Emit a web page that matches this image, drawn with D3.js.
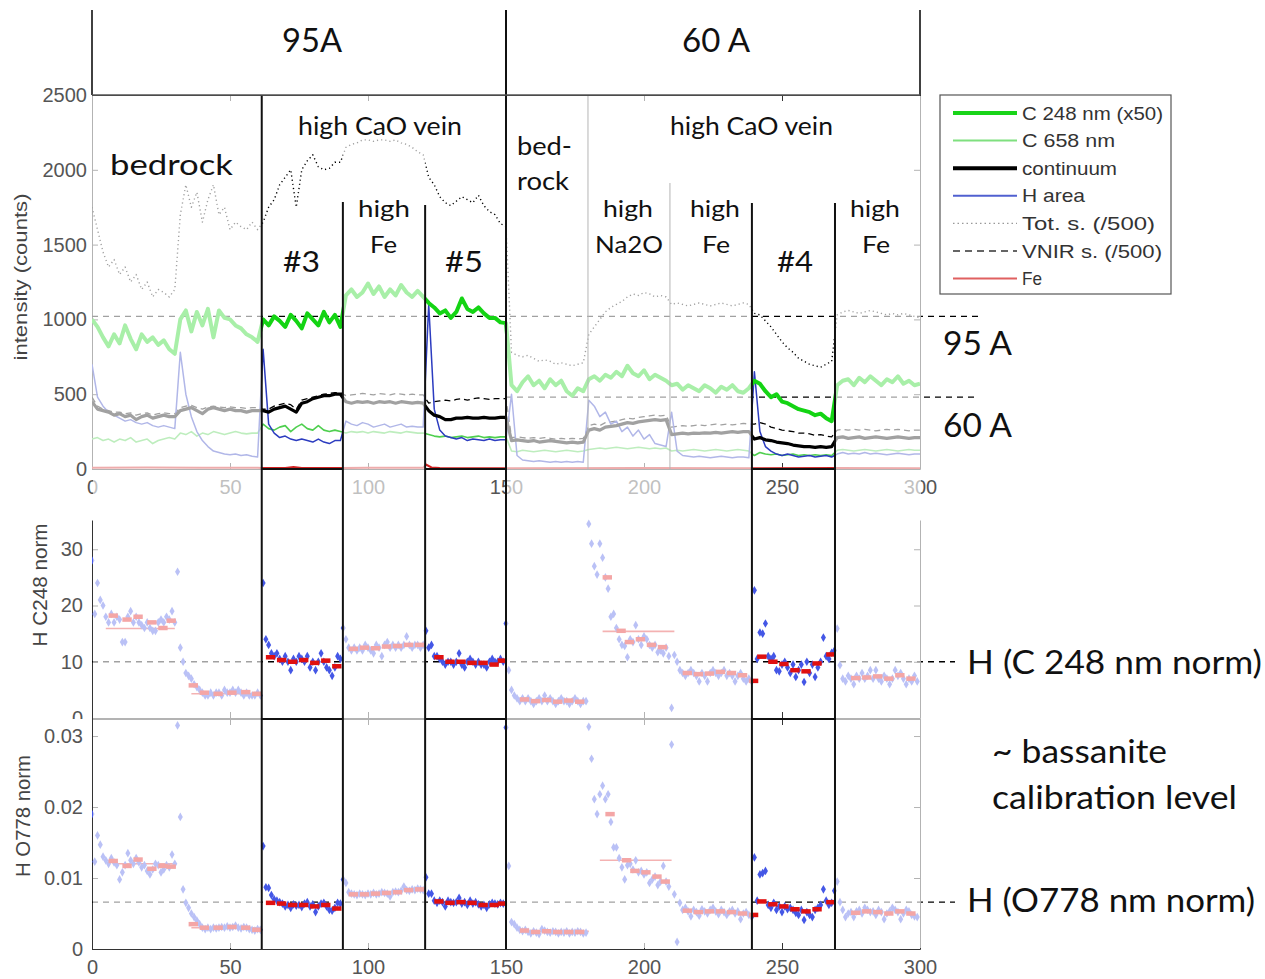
<!DOCTYPE html>
<html><head><meta charset="utf-8">
<script src="https://cdn.jsdelivr.net/npm/d3@7"></script>
<style>body{margin:0;background:#fff}svg{display:block}</style>
</head><body><svg id="c" width="1265" height="979"></svg>
<script>
// ---------------- DATA ----------------
// top panel traces, one value every 2 shots (x = 0,2,...,300)
const c248 = [
 1000,950,880,820,900,840,960,870,800,900,850,880,830,860,800,
 770,1000,1060,920,1050,960,1070,880,1060,1010,1000,960,940,900,880,
 850,1000,960,1020,990,950,1030,990,940,1040,1000,960,1050,980,1030,
 950,1160,1200,1150,1180,1240,1170,1220,1150,1200,1160,1230,1180,1150,1190,
 1150,1110,1080,1040,1060,1010,1050,1140,1070,1050,1080,1040,1010,1010,980,
 975,560,520,580,620,560,590,540,600,560,590,520,490,540,520,
 600,620,590,630,610,650,620,690,640,620,660,600,630,610,590,
 560,570,530,560,540,520,560,540,510,550,530,560,520,510,540,
 590,570,520,480,500,450,440,420,400,390,380,360,370,340,320,
 560,590,600,560,610,580,620,590,560,600,580,620,570,590,560,
 570];
const c658 = [
 200,210,190,200,180,200,190,210,180,190,200,170,190,200,210,
 200,240,230,250,220,240,230,250,240,230,240,250,240,235,240,
 240,300,270,260,280,290,250,280,300,270,260,290,260,250,260,
 250,240,250,245,250,240,250,245,240,250,245,240,250,245,240,
 240,230,220,215,220,210,215,220,210,215,220,210,215,210,215,
 215,120,115,125,120,115,120,125,120,115,120,125,120,115,120,
 130,135,140,135,140,145,140,135,140,145,140,135,140,135,140,
 120,125,120,125,130,125,120,125,130,125,120,125,130,125,120,
 90,110,100,95,100,90,95,100,90,95,90,95,90,95,90,
 125,130,125,120,125,130,125,120,125,130,125,120,125,130,125,
 125];
const continuum = [
 450,400,390,380,360,370,350,360,330,350,360,340,350,360,350,
 350,390,400,410,390,370,400,410,400,390,400,390,390,380,390,
 390,390,380,400,410,420,400,380,440,450,470,480,490,490,500,
 500,450,440,450,445,450,440,450,445,450,440,450,445,440,445,
 440,390,360,350,330,330,340,340,345,340,340,345,340,340,345,
 345,190,195,190,185,190,180,185,190,185,180,175,180,175,180,
 260,270,260,280,285,290,300,310,305,315,320,325,330,325,330,
 230,235,240,235,240,238,242,240,245,240,245,250,245,250,250,
 200,210,195,190,180,175,170,160,155,150,150,145,150,145,150,
 210,215,205,210,215,205,210,215,210,205,210,215,210,205,210,
 210];
const hArea = [
 700,480,420,380,360,340,320,330,310,300,310,290,280,290,280,
 270,780,500,350,250,190,150,120,110,100,95,100,90,95,85,
 80,800,300,240,210,220,200,190,200,190,180,200,180,170,190,
 190,320,300,290,310,300,280,290,300,280,290,300,280,285,280,
 280,1100,400,260,220,210,200,210,190,200,195,190,200,190,195,
 195,500,90,60,55,50,55,50,45,50,45,50,45,50,45,
 460,420,350,380,300,320,250,280,220,260,200,230,170,160,150,
 380,120,90,85,80,85,80,75,80,85,80,75,80,80,75,
 650,250,150,120,100,90,100,90,80,85,90,80,85,90,80,
 100,110,100,105,100,110,100,105,100,95,100,105,100,95,100,
 100];
const totS = [
 1750,1600,1450,1350,1400,1300,1350,1250,1300,1200,1250,1150,1200,1180,1150,
 1200,1700,1900,1750,1850,1650,1800,1900,1700,1750,1600,1650,1620,1600,1650,
 1600,1650,1750,1800,1900,1950,2000,1750,2000,2060,2100,2020,2000,2010,2050,
 2050,2150,2170,2180,2200,2200,2190,2200,2200,2190,2200,2180,2170,2150,2120,
 2100,1950,1900,1820,1780,1760,1790,1820,1800,1780,1830,1760,1720,1700,1640,
 1620,780,760,750,760,740,720,730,720,700,710,700,690,700,710,
 900,950,1000,1050,1080,1100,1120,1150,1170,1160,1180,1170,1150,1160,1150,
 1100,1110,1100,1090,1100,1110,1100,1090,1100,1110,1100,1090,1100,1110,1100,
 1040,1030,990,950,900,850,810,780,740,720,700,690,680,700,720,
 1030,1050,1060,1050,1040,1050,1060,1050,1040,1030,1040,1030,1040,1030,1020,
 1010];
const vnir = [
 480,420,400,390,380,380,370,375,360,370,375,360,370,375,370,
 370,410,420,425,410,400,415,420,415,410,415,410,410,405,410,
 410,400,400,420,430,440,430,400,460,470,480,490,500,505,510,
 510,490,495,500,505,500,495,505,500,495,505,500,495,500,495,
 495,440,450,455,460,455,465,470,460,470,475,470,465,470,470,
 470,210,215,210,205,210,205,210,205,200,205,200,205,200,205,
 290,300,290,310,315,320,330,340,335,345,350,355,360,355,360,
 280,285,290,285,290,295,290,295,300,295,300,295,300,305,300,
 300,310,300,280,270,260,255,250,240,240,235,225,230,220,215,
 260,265,260,265,260,265,260,255,260,265,260,265,260,255,260,
 260];
const feX = [0,20,40,60,62,70,73,76,90,100,120,121,123,126,150,200,240,270,300];
const feY = [8,10,9,8,6,7,14,7,6,8,8,30,10,6,5,6,5,6,5];

// lower panels: one value per shot (x = 0..299)
const hC248 = [
 28,18.5,24,21,20,18,17,18.5,17,18, 17.5,13.5,13.5,18,19,17,18,17,16.5,16,
 17,16,15.5,15.5,17,17.5,17,18,17.5,19, 17,26,12.5,10,8,7.5,7,6,5.5,5,
 4.5,4,4,4.5,4,4.5,4.5,4,5,4.5, 4.5,5,4.5,5,4.5,4,4.5,4,4,4,
 4.5,4,24,14,13,11.5,11,11.5,10.5,10, 11,10,8.5,10.5,10,11,10.5,10,11,9,
 10,8.5,10,11.5,10,9,8.5,7.5,9,11, 10.5,16,14,12.5,12,12.5,12,12.5,12,13,
 12.5,12,11.5,13,12.5,11,13,13.5,12.5,13, 12.5,13,12.5,13,14.5,13,12.5,13,13,12.5,
 13,15.5,12.5,13,11,11,10.5,10,9.5,10, 10,9.5,10,11.5,9.5,9,10,10.5,10,9.5,
 10,9.5,9.5,9,10,10.5,10,10,10.5,10, 16.8,8.5,5,4,3.5,3,3.5,3,3.5,3,
 2.5,3,3.5,3,4,3,3.5,3,2.5,3, 3.5,3,3,2.5,3,3.5,3,2.5,3,3,
 34.5,31,27,25.5,31,28.5,25,23,18,18.5, 16,14,13,12.8,10.8,14,13.5,16.5,14,13,
 14.5,14,13,12.5,13,11.7,12,11.5,12.5,11, 1.8,11.2,10,8.5,8,7.5,8,8.5,8,7.5,
 6.5,8,7.5,6.5,8,8.5,8,7.5,8,8.5, 7.5,8,7.5,6.5,7.5,8,7,6.5,7,6.5,
 22.7,10.5,15.2,15,16.8,11,10.5,11,8.5,8.3, 9.5,10,9,8,9.5,7.3,8.5,9.5,6.4,10,
 8,9.5,7.3,9,10,14.3,11,10.5,11.6,12, 15.9,9.4,7,6.5,7.5,7,6,7.5,7,8,
 7,7.5,8.5,7,8.5,7,6.5,7.5,7,6, 7,8.5,7.5,8,7,6,7,6.5,7.5,6.5];
const hO778 = [
 .019,.0123,.016,.0147,.013,.0125,.012,.0128,.0122,.0118, .0098,.0108,.0118,.0135,.0125,.012,.0128,.0122,.0115,.0118,
 .011,.0105,.0112,.012,.0118,.0108,.0112,.0118,.0115,.0133, .012,.0315,.0186,.0084,.0065,.0058,.005,.0045,.004,.0035,
 .003,.0028,.003,.0028,.003,.0029,.003,.0031,.003,.0032, .003,.0031,.0033,.003,.0029,.0031,.003,.0028,.0027,.0026,
 .0028,.0027,.0145,.0087,.0086,.0076,.007,.0068,.0066,.0064, .006,.0062,.0058,.0063,.0061,.0062,.0059,.0064,.0066,.006,
 .0063,.0052,.006,.0064,.0065,.006,.0055,.0054,.0058,.0065, .0064,.0098,.0093,.008,.0078,.0077,.0076,.0078,.0077,.0076,
 .0078,.0077,.0079,.0077,.0078,.008,.0079,.0078,.0074,.008, .0081,.008,.0082,.0088,.0083,.0082,.0084,.0083,.0085,.0084,
 .0083,.0101,.0078,.0078,.0068,.0065,.0068,.0066,.006,.0068, .0066,.0065,.0066,.0072,.0064,.0066,.0062,.0068,.0064,.0066,
 .0063,.006,.0062,.0058,.0063,.0065,.0064,.0063,.0065,.0064, .0312,.0117,.0038,.0035,.003,.0027,.0025,.0027,.0024,.0022,
 .0025,.0023,.0021,.0028,.0026,.0024,.0023,.0025,.0024,.0022, .0024,.0023,.0025,.0022,.0024,.0023,.0025,.0024,.0022,.0023,
 .0313,.0268,.0211,.019,.0218,.023,.0211,.0218,.0179,.0143, .0143,.0128,.0115,.0098,.0118,.012,.0112,.0125,.0108,.011,
 .0105,.0108,.0093,.0098,.0102,.009,.0095,.0117,.0095,.0088, .0288,.0077,.001,.0065,.0055,.0058,.0053,.0046,.0055,.0052,
 .0047,.0056,.0053,.005,.0055,.0058,.0053,.0049,.0055,.0052, .0048,.0053,.0055,.005,.0053,.0042,.005,.0052,.0048,.0045,
 .0129,.0068,.0105,.0107,.011,.0062,.0058,.0065,.0055,.006, .0052,.006,.0056,.0058,.0055,.0051,.0048,.0055,.0041,.0052,
 .0048,.0045,.0055,.0058,.0062,.0084,.0068,.0062,.0065,.0082, .0095,.0066,.0055,.0045,.005,.0052,.0045,.0053,.0055,.005,
 .0058,.0055,.0052,.0053,.0048,.0055,.0052,.0042,.005,.0053, .0058,.0055,.0052,.0042,.005,.0055,.0053,.0048,.0046,.0045];
// 5-shot averages: [start shot, value]
const hC248Avg = [
 [6,18.2],[11,17.5],[15,18],[20,17],[24,16],[27,17.3],
 [35,5.8],[39,4.5],[44,4.3],[49,4.5],[54,4.6],[58,4.3],
 [63,10.8],[67,10.3],[71,10],[75,10.3],[79,9.8],[83,10.2],[87,9.2],
 [93,12.3],[97,12.5],[101,12.4],[105,12.7],[109,12.8],[113,13],[117,13],
 [124,10.8],[128,10],[132,10],[136,9.8],[140,9.8],[144,9.5],[147,10.2],
 [155,3.3],[159,3],[163,3.2],[167,2.9],[171,3.1],[175,2.9],
 [185,25],[190,15.5],[193,13.5],[197,14],[201,13],[205,12.6],
 [214,8],[218,7.8],[222,7.9],[226,8.2],[230,8],[234,7.6],[238,6.6],
 [241,10.9],[245,10],[249,9.6],[253,8.5],[257,8.3],[261,9.7],[266,11.3],
 [275,7.1],[279,7.2],[283,7.4],[287,7],[291,7.6],[295,7]];
const hO778Avg = [
 [6,.0124],[11,.0117],[15,.0126],[20,.0113],[24,.0117],[27,.0116],
 [35,.0035],[39,.003],[44,.003],[49,.0031],[54,.003],[58,.0027],
 [63,.0065],[67,.0064],[71,.0062],[75,.0062],[79,.006],[83,.0062],[87,.0057],
 [93,.0077],[97,.0077],[101,.0078],[105,.0079],[109,.008],[113,.0083],[117,.0084],
 [124,.0067],[128,.0065],[132,.0066],[136,.0065],[140,.0062],[144,.0062],[147,.0064],
 [155,.0026],[159,.0024],[163,.0025],[167,.0024],[171,.0024],[175,.0024],
 [186,.019],[192,.0125],[195,.011],[199,.0108],[203,.0102],[206,.0095],
 [214,.0054],[218,.0052],[222,.0053],[226,.0053],[230,.0052],[234,.005],[238,.0048],
 [241,.0067],[245,.0063],[249,.006],[253,.0056],[257,.0053],[261,.0056],[266,.0066],
 [275,.0051],[279,.0053],[283,.0052],[287,.005],[291,.0053],[295,.005]];
// region means: [from, to, value]
const hC248Mean = [[5,30,15.9],[36,60,4.3],[185,211,15.4]];
const hO778Mean = [[8,30,.012],[36,60,.003],[155,180,.0025],[184,210,.0125]];
// calibration / current reference levels
const ref95A = 1020, ref60A = 480, refC248 = 10, refO778 = 0.0066;
// segment boundaries (shot #) and highlighted (bright) segments
const bounds = [61.5, 90.9, 120.7, 150, 179.7, 209.4, 239.1, 269.2];
const boxes = [[61.5,90.9],[120.7,150],[239.1,269.2]];
const xTicks = [0,50,100,150,200,250,300];
const topYTicks = [0,500,1000,1500,2000,2500];
const midYTicks = [0,10,20,30];
const botYTicks = [0,0.01,0.02,0.03];
const legendLabels = ['C 248 nm (x50)','C 658 nm','continuum','H area','Tot. s. (/500)','VNIR s. (/500)','Fe'];

// ---------------- DRAW ----------------
const svg = d3.select('#c');
const tickFont = "'Liberation Sans', Arial, sans-serif";
const annFont = "Lato, 'Open Sans', sans-serif";
const X = d3.scaleLinear().domain([0,300]).range([92,920]);
const yT = d3.scaleLinear().domain([0,2500]).range([469,95]);
const yM = d3.scaleLinear().domain([0,35.2]).range([718,520]);
const yB = d3.scaleLinear().domain([0,0.0324]).range([949,719]);
const topXs = d3.range(0,301,2);

const defs = svg.append('defs');
function clip(id,x0,y0,x1,y1){defs.append('clipPath').attr('id',id).append('rect').attr('x',x0).attr('y',y0).attr('width',x1-x0).attr('height',y1-y0);}
clip('cT',92,95,920,469); clip('cM',92,515,920,718); clip('cB',92,719,920,949); clip('cMl',-200,0,1265,719);

function styleAxis(g,fs){
  g.attr('font-family',null).attr('font-size',null);
  g.select('.domain').attr('stroke','#333');
  g.selectAll('.tick line').attr('stroke','#333');
  g.selectAll('.tick text').attr('fill','#555').style('font-family',tickFont).style('font-size',(fs||20)+'px');
}
const intFmt = d3.format('d');
const base = svg.append('g');
// top axes
base.append('g').attr('transform','translate(92,0)').call(d3.axisLeft(yT).tickValues(topYTicks).tickSize(-6).tickSizeOuter(0).tickPadding(5).tickFormat(intFmt)).call(styleAxis);
base.append('g').attr('transform','translate(920,0)').call(d3.axisRight(yT).tickValues(topYTicks).tickSize(-6).tickSizeOuter(0).tickFormat('')).call(styleAxis);
base.append('g').attr('transform','translate(0,469)').call(d3.axisBottom(X).tickValues(xTicks).tickSize(-6).tickSizeOuter(0).tickPadding(11).tickFormat(intFmt)).call(styleAxis);
base.append('g').attr('transform','translate(0,95)').call(d3.axisTop(X).tickValues(xTicks).tickSize(-6).tickSizeOuter(0).tickFormat('')).call(styleAxis);
// middle axes
base.append('g').attr('transform','translate(92,0)').attr('clip-path','url(#cMl)').call(d3.axisLeft(yM).tickValues(midYTicks).tickSize(-6).tickSizeOuter(0).tickPadding(9).tickFormat(intFmt)).call(styleAxis);
base.append('g').attr('transform','translate(920,0)').call(d3.axisRight(yM).tickValues(midYTicks).tickSize(-6).tickSizeOuter(0).tickFormat('')).call(styleAxis);
base.append('g').attr('transform','translate(0,718)').call(d3.axisBottom(X).tickValues(xTicks).tickSize(-6).tickSizeOuter(0).tickFormat('')).call(styleAxis);
// bottom axes
base.append('g').attr('transform','translate(92,0)').call(d3.axisLeft(yB).tickValues(botYTicks).tickSize(-6).tickSizeOuter(0).tickPadding(9).tickFormat(d=>d===0?'0':d3.format('.2f')(d))).call(styleAxis);
base.append('g').attr('transform','translate(920,0)').call(d3.axisRight(yB).tickValues(botYTicks).tickSize(-6).tickSizeOuter(0).tickFormat('')).call(styleAxis);
base.append('g').attr('transform','translate(0,719)').call(d3.axisTop(X).tickValues(xTicks).tickSize(-6).tickSizeOuter(0).tickFormat('')).call(styleAxis);
base.append('g').attr('transform','translate(0,949)').call(d3.axisBottom(X).tickValues(xTicks).tickSize(-6).tickSizeOuter(0).tickPadding(11).tickFormat(intFmt)).call(styleAxis);

// reference dashed lines (extend to right annotation)
function refLine(y,x0,x1,w){base.append('line').attr('x1',x0).attr('x2',x1).attr('y1',y).attr('y2',y).attr('stroke','#000').attr('stroke-width',w||1.3).attr('stroke-dasharray','6,5');}
refLine(yT(ref95A),X(0),978); refLine(yT(ref60A),X(150),975);
refLine(yM(refC248),X(0),955); refLine(yB(refO778),X(0),955);

// top traces
const gT = base.append('g').attr('clip-path','url(#cT)');
const lineT = d3.line().x((d,i)=>X(topXs[i])).y(d=>yT(d));
const traces = [
 {d:totS, c:'#000', w:1.4, dash:'1.2,3'},
 {d:vnir, c:'#000', w:1.3, dash:'6,4'},
 {d:c658, c:'#4fcf4f', w:1.6},
 {d:hArea, c:'#2c3cc0', w:1.5},
 {d:continuum, c:'#000', w:3.2},
 {d:c248, c:'#14d414', w:4}
];
traces.forEach(t=>gT.append('path').attr('d',lineT(t.d)).attr('fill','none').attr('stroke',t.c).attr('stroke-width',t.w).attr('stroke-dasharray',t.dash||null).attr('stroke-linejoin','round'));
gT.append('path').attr('d',d3.line().x((d,i)=>X(feX[i])).y(d=>yT(d))(feY)).attr('fill','none').attr('stroke','#d02020').attr('stroke-width',2);

// scatter panels
function scatter(clipId, vals, avg, means, y){
  const g = base.append('g').attr('clip-path','url(#'+clipId+')');
  g.selectAll('line.mean').data(means).join('line').attr('class','mean').attr('x1',d=>X(d[0])).attr('x2',d=>X(d[1])).attr('y1',d=>y(d[2])).attr('y2',d=>y(d[2])).attr('stroke','#e03030').attr('stroke-width',1.6);
  const sym = d3.symbol(d3.symbolDiamond, 22);
  g.selectAll('path.dot').data(vals).join('path').attr('class','dot').attr('d',sym).attr('transform',(d,i)=>`translate(${X(i)},${y(d)})`).attr('fill','#4457e6');
  g.selectAll('line.avg').data(avg).join('line').attr('class','avg').attr('x1',d=>X(d[0])).attr('x2',d=>X(d[0]+3.4)).attr('y1',d=>y(d[1])).attr('y2',d=>y(d[1])).attr('stroke','#e01010').attr('stroke-width',4.5);
}
scatter('cM', hC248, hC248Avg, hC248Mean, yM);
scatter('cB', hO778, hO778Avg, hO778Mean, yB);

// fading veil outside highlighted segments
const veil = svg.append('g').attr('fill','#fff').attr('fill-opacity',0.63);
const openIntervals = [[0,boxes[0][0]],[boxes[0][1],boxes[1][0]],[boxes[1][1],boxes[2][0]],[boxes[2][1],300]];
openIntervals.forEach((iv,k)=>{
  const x0 = k===0 ? X(iv[0])+1 : X(iv[0]);
  const x1 = k===3 ? X(iv[1])+1 : X(iv[1]);
  veil.append('rect').attr('x',x0).attr('y',96).attr('width',x1-x0).attr('height',948-96);
});
veil.append('rect').attr('x',X(0)-1.5).attr('y',96).attr('width',2.5).attr('height',374);

// separators and boxes
const ov = svg.append('g');
const sepTop = [95,202,205,10,96,183,203,203];
const sepBot = [949,949,949,949,469,469,949,949];
bounds.forEach((b,i)=>{
  const grey = sepBot[i]===469;
  ov.append('line').attr('x1',X(b)).attr('x2',X(b)).attr('y1',sepTop[i]).attr('y2',sepBot[i]).attr('stroke',grey?'#b5b5b5':'#111').attr('stroke-width',grey?1:2);
});
boxes.forEach(bx=>{
  [yT(0), yB(0.0324)].forEach(yy=>ov.append('line').attr('x1',X(bx[0])).attr('x2',X(bx[1])).attr('y1',yy).attr('y2',yy).attr('stroke','#111').attr('stroke-width',2));
});
// header
[0,150,300].forEach(v=>ov.append('line').attr('x1',X(v)).attr('x2',X(v)).attr('y1',10).attr('y2',95).attr('stroke','#111').attr('stroke-width',1.6));
ov.append('line').attr('x1',X(0)).attr('x2',X(300)).attr('y1',95).attr('y2',95).attr('stroke','#555').attr('stroke-width',1.6);

function txt(s,x,y,size,len,opt){
  opt=opt||{};
  const t=ov.append('text').attr('x',x).attr('y',y).text(s).attr('font-family',opt.font||annFont).attr('font-size',size).attr('fill',opt.fill||'#111');
  if(len) t.attr('textLength',len).attr('lengthAdjust','spacingAndGlyphs');
  if(opt.weight) t.attr('font-weight',opt.weight);
  return t;
}
const labels = [
 ['95A',282,52,32,60],['60 A',682,52,32,68],
 ['bedrock',110,175,28,123],['high CaO vein',298,135,25,164],
 ['high',358,217,24,52],['Fe',370,253,24,27],['#3',283,272,28,37],['#5',445,272,28,38],
 ['bed-',517,155,25,55],['rock',517,190,25,52],['high CaO vein',670,135,25,163],
 ['high',603,217,24,50],['Na2O',595,253,24,68],['high',690,217,24,50],['Fe',702,253,24,28],
 ['#4',777,272,28,36],['high',850,217,24,50],['Fe',862,253,24,28],
 ['95 A',943,355,32,69],['60 A',943,437,32,69],
 ['H (C 248 nm norm)',967,674,33,295],['~ bassanite',992,763,33,175],['calibration level',992,809,33,245],
 ['H (O778 nm norm)',967,912,33,288]
];
labels.forEach(l=>txt(l[0],l[1],l[2],l[3],l[4]));

// axis titles
function vtitle(s,cx,cy,size,len){
  ov.append('text').attr('transform',`translate(${cx},${cy}) rotate(-90)`).attr('text-anchor','middle').attr('dy','0.35em')
   .attr('font-family',tickFont).attr('font-size',size).attr('fill','#444').attr('textLength',len).attr('lengthAdjust','spacingAndGlyphs').text(s);
}
vtitle('intensity (counts)',20,277,19,167);
vtitle('H C248 norm',40,585,20,123);
vtitle('H O778 norm',23,816,20,122);

// legend
const lg = ov.append('g');
lg.append('rect').attr('x',940).attr('y',95).attr('width',231).attr('height',199).attr('fill','#fff').attr('stroke','#555').attr('stroke-width',1.2);
const legStyles = [
 {c:'#19d419',w:4},{c:'#7fe07f',w:2},{c:'#000',w:4},{c:'#5060d0',w:2},
 {c:'#999',w:1.3,dash:'1.5,3'},{c:'#333',w:1.5,dash:'7,5'},{c:'#e06060',w:2}];
const legLens = [141,93,95,63,133,140,20];
legendLabels.forEach((s,i)=>{
  const yy = 113 + i*27.6;
  lg.append('line').attr('x1',953).attr('x2',1017).attr('y1',yy).attr('y2',yy).attr('stroke',legStyles[i].c).attr('stroke-width',legStyles[i].w).attr('stroke-dasharray',legStyles[i].dash||null);
  lg.append('text').attr('x',1022).attr('y',yy).attr('dy','0.35em').attr('font-family',tickFont).attr('font-size',19).attr('fill','#333')
    .attr('textLength',legLens[i]).attr('lengthAdjust','spacingAndGlyphs').text(s);
});
</script></body></html>
